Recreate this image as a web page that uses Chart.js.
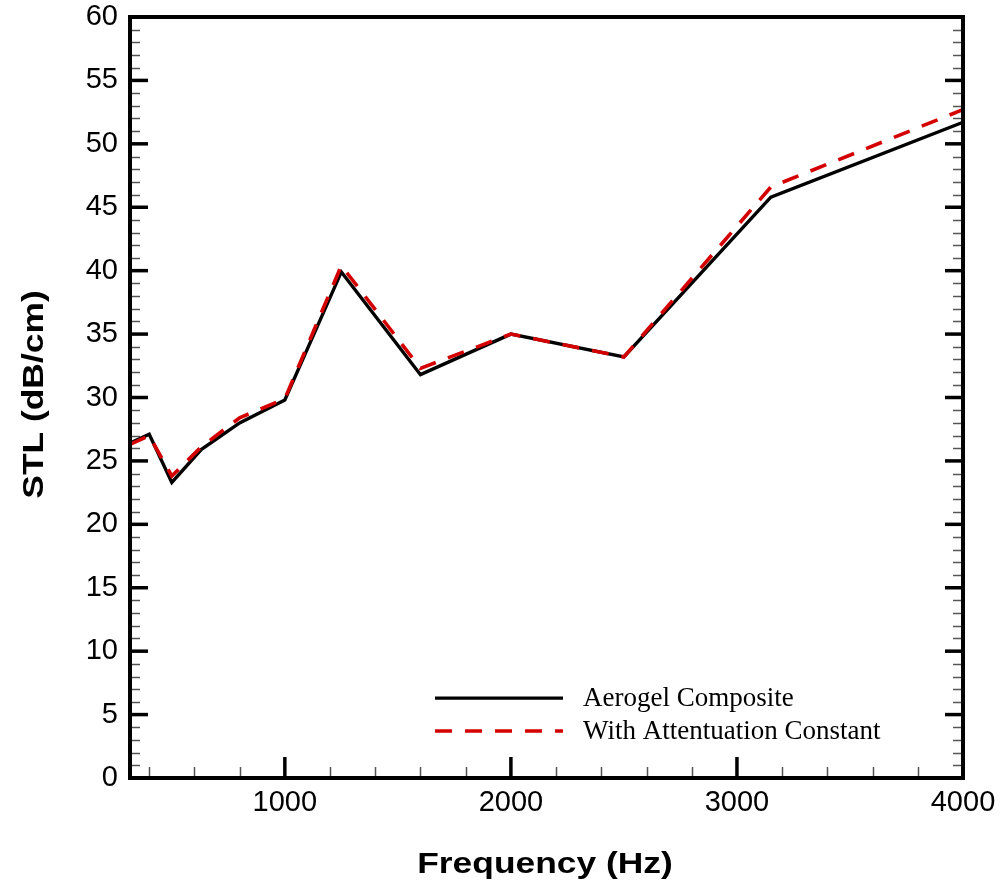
<!DOCTYPE html>
<html>
<head>
<meta charset="utf-8">
<script src="https://cdn.jsdelivr.net/npm/chart.js@4"></script>
<style>
  html, body { margin: 0; padding: 0; background: #fff; }
  #wrap { width: 1003px; height: 892px; }
</style>
</head>
<body>
<div id="wrap"><canvas id="myChart" width="1003" height="892"></canvas></div>
<script>
// frequency bands (Hz)
const freqs = [315, 400, 500, 630, 800, 1000, 1250, 1600, 2000, 2500, 3150, 4000];
// STL values (dB/cm)
const aerogel = [26.4, 27.1, 23.3, 25.9, 28.0, 29.8, 39.9, 31.8, 35.0, 33.2, 45.8, 51.7];
const attenuation = [26.3, 27.0, 23.8, 26.1, 28.4, 29.9, 40.4, 32.3, 35.0, 33.2, 46.6, 52.7];
const seriesNames = ['Aerogel Composite', 'With Attentuation Constant'];
const xTicks = [1000, 2000, 3000, 4000];
const yTicks = [0, 5, 10, 15, 20, 25, 30, 35, 40, 45, 50, 55, 60];

const pts = (ys) => freqs.map((f, i) => ({ x: f, y: ys[i] }));

// frame + inward ticks + legend + axis titles
const decor = {
  id: 'decor',
  afterDatasetsDraw(chart) {
    const c = chart.ctx, a = chart.chartArea;
    const xs = chart.scales.x, ys = chart.scales.y;
    c.save();
    c.lineCap = 'butt';
    // minor x ticks every 200
    c.strokeStyle = '#555'; c.lineWidth = 1.5;
    for (let v = 400; v < 4000; v += 200) {
      if (v % 1000 === 0) continue;
      const px = Math.round(xs.getPixelForValue(v)) + 0.5;
      c.beginPath(); c.moveTo(px, a.bottom); c.lineTo(px, a.bottom - 11); c.stroke();
    }
    // minor y ticks every 1, both sides
    for (let v = 1; v < 60; v++) {
      if (v % 5 === 0) continue;
      const py = Math.round(ys.getPixelForValue(v)) + 0.5;
      c.beginPath(); c.moveTo(a.left, py); c.lineTo(a.left + 10, py); c.stroke();
      c.beginPath(); c.moveTo(a.right, py); c.lineTo(a.right - 10, py); c.stroke();
    }
    // major ticks
    c.strokeStyle = '#000'; c.lineWidth = 3.5;
    xTicks.forEach(v => {
      const px = xs.getPixelForValue(v);
      c.beginPath(); c.moveTo(px, a.bottom); c.lineTo(px, a.bottom - 21); c.stroke();
    });
    yTicks.forEach(v => {
      const py = ys.getPixelForValue(v);
      c.beginPath(); c.moveTo(a.left, py); c.lineTo(a.left + 18, py); c.stroke();
      c.beginPath(); c.moveTo(a.right, py); c.lineTo(a.right - 18, py); c.stroke();
    });
    // frame
    c.lineWidth = 4;
    c.strokeRect(a.left, a.top, a.right - a.left, a.bottom - a.top);

    // legend
    const ds = chart.data.datasets;
    const lx0 = 435, lx1 = 563;
    const rows = [ys.getPixelForValue(6.3), ys.getPixelForValue(3.7)];
    c.font = '27px "Liberation Serif", "Times New Roman", serif';
    c.textBaseline = 'middle';
    c.fillStyle = '#000';
    ds.forEach((d, i) => {
      const y = rows[i];
      c.strokeStyle = d.borderColor;
      c.lineWidth = d.borderWidth;
      c.setLineDash(d.borderDash || []);
      c.beginPath(); c.moveTo(lx0, y); c.lineTo(lx1, y); c.stroke();
      c.setLineDash([]);
      c.fillText(d.label, lx1 + 20, y + 1);
    });

    // axis titles (wide bold face -> stretch along the text)
    c.font = 'bold 29px "Liberation Sans", Arial, sans-serif';
    c.textAlign = 'center';
    c.textBaseline = 'alphabetic';
    c.save();
    c.translate(545, 873);
    c.scale(1.22, 1);
    c.fillText('Frequency (Hz)', 0, 0);
    c.restore();
    c.translate(43, (a.top + a.bottom) / 2 - 3);
    c.rotate(-Math.PI / 2);
    c.scale(1.22, 1);
    c.fillText('STL (dB/cm)', 0, 0);
    c.restore();
  }
};

const ctx = document.getElementById('myChart');
new Chart(ctx, {
  type: 'line',
  data: {
    datasets: [{
      label: seriesNames[0],
      data: pts(aerogel),
      borderColor: '#000',
      borderWidth: 3.4,
      pointRadius: 0,
      tension: 0,
      order: 2
    }, {
      label: seriesNames[1],
      data: pts(attenuation),
      borderColor: '#d40000',
      borderWidth: 3.6,
      borderDash: [17, 13],
      pointRadius: 0,
      tension: 0,
      order: 1
    }]
  },
  plugins: [decor],
  options: {
    responsive: false,
    animation: false,
    events: [],
    layout: { padding: { top: 17, right: 40, left: 0, bottom: 0 } },
    plugins: { legend: { display: false }, tooltip: { enabled: false } },
    scales: {
      x: {
        type: 'linear',
        min: 315,
        max: 4000,
        afterFit(s) { s.height = 114; s.paddingLeft = 0; s.paddingRight = 0; },
        afterBuildTicks(s) { s.ticks = xTicks.map(v => ({ value: v })); },
        grid: { display: false, drawTicks: false },
        border: { display: false },
        ticks: {
          padding: 8,
          color: '#000',
          maxRotation: 0,
          callback: v => String(v),
          font: { family: '"Liberation Sans", Arial, sans-serif', size: 29 }
        }
      },
      y: {
        min: 0,
        max: 60,
        afterFit(s) { s.width = 130; s.paddingTop = 0; s.paddingBottom = 0; },
        afterBuildTicks(s) { s.ticks = yTicks.map(v => ({ value: v })); },
        grid: { display: false, drawTicks: false },
        border: { display: false },
        ticks: {
          padding: 12,
          color: '#000',
          callback: v => String(v),
          font: { family: '"Liberation Sans", Arial, sans-serif', size: 29 }
        }
      }
    }
  }
});
</script>
</body>
</html>
